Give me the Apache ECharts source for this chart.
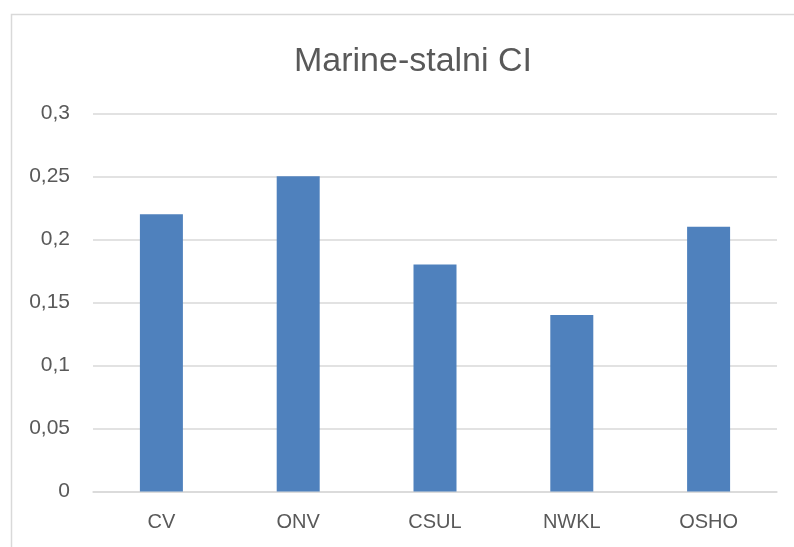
<!DOCTYPE html>
<html>
<head>
<meta charset="utf-8">
<script src="https://cdn.jsdelivr.net/npm/echarts@6/dist/echarts.min.js"></script>
<style>
  html, body { margin: 0; padding: 0; background: #fff; }
  #chart { width: 794px; height: 547px; }
</style>
</head>
<body>
<div id="chart"></div>
<script>
// Chart content
const chartTitle = 'Marine-stalni CI';
const categories = ['CV', 'ONV', 'CSUL', 'NWKL', 'OSHO'];
const values = [0.22, 0.25, 0.18, 0.14, 0.21];
const yMin = 0;
const yMax = 0.3;
const yStep = 0.05;

const textColor = '#595959';
const gridColor = '#d9d9d9';
const barColor = '#4F81BD';
const font = '"Liberation Sans", Arial, sans-serif';

// Decimal comma for the value axis
function formatTick(v) {
  const r = Math.round(v * 100) / 100;
  return String(r).replace('.', ',');
}

const chart = echarts.init(document.getElementById('chart'), null, { renderer: 'canvas' });

chart.setOption({
  backgroundColor: '#fff',
  animation: false,
  graphic: [{
    type: 'rect',
    shape: { x: 11.5, y: 14.5, width: 820, height: 600 },
    style: { fill: 'none', stroke: gridColor, lineWidth: 1.5 },
    silent: true
  }],
  title: {
    text: chartTitle,
    left: 408,
    top: 40,
    textAlign: 'center',
    textStyle: {
      fontFamily: font,
      fontSize: 34,
      fontWeight: 'normal',
      color: textColor
    }
  },
  grid: {
    left: 93,
    right: 17,
    top: 113.3,
    bottom: 55.5,
    containLabel: false
  },
  xAxis: {
    type: 'category',
    data: categories,
    axisLine: { show: true, lineStyle: { color: gridColor, width: 1.5 } },
    axisTick: { show: false },
    axisLabel: {
      margin: 21,
      fontFamily: font,
      fontSize: 20,
      color: textColor
    }
  },
  yAxis: {
    type: 'value',
    min: yMin,
    max: yMax,
    interval: yStep,
    axisLine: { show: false },
    axisTick: { show: false },
    splitLine: { lineStyle: { color: gridColor, width: 1.5 } },
    axisLabel: {
      margin: 23,
      fontFamily: font,
      fontSize: 21,
      color: textColor,
      formatter: formatTick
    }
  },
  series: [{
    type: 'bar',
    data: values,
    barWidth: 43,
    itemStyle: { color: barColor }
  }]
});
</script>
</body>
</html>
